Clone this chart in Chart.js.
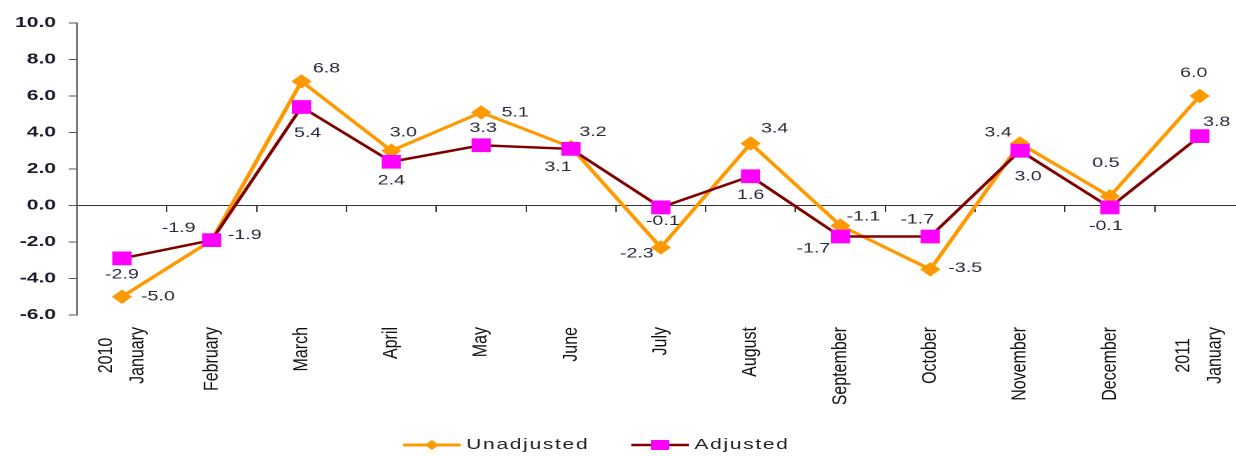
<!DOCTYPE html>
<html>
<head>
<meta charset="utf-8">
<script src="https://cdn.jsdelivr.net/npm/chart.js@4.4.1/dist/chart.umd.min.js"></script>
<style>
    html, body { margin: 0; padding: 0; background: #fff; overflow: hidden; }
    /* the reference picture is stretched sideways, so is this one */
    #wrap { width: 899px; height: 456px; transform: scaleX(1.4); transform-origin: 0 0; }
</style>
</head>
<body>
<div id="wrap"><canvas id="chartCanvas"></canvas></div>
<script>
const SX = 1.4;

const months = [
    ['2010', 'January'], ['February'], ['March'], ['April'], ['May'], ['June'],
    ['July'], ['August'], ['September'], ['October'], ['November'], ['December'],
    ['2011', 'January']
];
const unadjusted = [-5.0, -1.9, 6.8, 3.0, 5.1, 3.2, -2.3, 3.4, -1.1, -3.5, 3.4, 0.5, 6.0];
const adjusted = [-2.9, -1.9, 5.4, 2.4, 3.3, 3.1, -0.1, 1.6, -1.7, -1.7, 3.0, -0.1, 3.8];
const yMin = -6, yMax = 10, yStep = 2;

// where each value label sits next to its point (screen px)
const unadjLabelPos = [[36, 0], [-33, -12], [25, -13], [12, -18], [34, 0], [22, -15], [-24, 6],
    [24, -15], [23, -9], [35, -1], [-22, -11], [-4, -33], [-6, -23]];
const adjLabelPos = [[0, 16], [33, -5], [6, 26], [0, 19], [2, -17], [-13, 18], [2, 14],
    [0, 19], [-27, 12], [-13, -17], [8, 26], [-4, 19], [17, -14]];

const FONT = '"Liberation Sans", Arial, sans-serif';
const orange = '#FF9900';
const darkRed = '#800000';
const magenta = '#FF00FF';

const valueLabels = {
    id: 'valueLabels',
    afterDatasetsDraw(chart) {
        const ctx = chart.ctx;
        ctx.save();
        ctx.font = '14px ' + FONT;
        ctx.fillStyle = '#2a2a3a';
        ctx.textAlign = 'center';
        ctx.textBaseline = 'middle';
        chart.data.datasets.forEach((ds, di) => {
            const meta = chart.getDatasetMeta(di);
            meta.data.forEach((pt, i) => {
                const off = ds.labelPos[i];
                ctx.fillText(ds.data[i].toFixed(1), pt.x + off[0] / SX, pt.y + off[1]);
            });
        });
        ctx.restore();
    }
};

const monthLabels = {
    id: 'monthLabels',
    afterDraw(chart) {
        const ctx = chart.ctx;
        const xs = chart.scales.x;
        const top = chart.chartArea.bottom + 12;
        ctx.save();
        ctx.font = '16px ' + FONT;
        ctx.fillStyle = '#111';
        ctx.textAlign = 'center';
        ctx.textBaseline = 'middle';
        months.forEach((lines, i) => {
            const x = xs.getPixelForTick(i);
            const blockW = Math.max(...lines.map(l => ctx.measureText(l).width));
            lines.forEach((line, j) => {
                const v = (j - (lines.length - 1) / 2) * 22.5;
                ctx.save();
                ctx.translate(x + v, top);
                ctx.scale(0.92, 1);
                ctx.rotate(-Math.PI / 2);
                ctx.fillText(line, -blockW / 2, 0);
                ctx.restore();
            });
        });
        ctx.restore();
    }
};

const legendBox = {
    id: 'legendBox',
    afterDraw(chart) {
        const ctx = chart.ctx;
        const y = 445;
        let x = 288;
        ctx.save();
        ctx.font = '15px ' + FONT;
        ctx.letterSpacing = '1.2px';
        ctx.textBaseline = 'middle';
        ctx.textAlign = 'left';
        [1, 0].forEach(di => {
            const ds = chart.data.datasets[di];
            ctx.strokeStyle = ds.borderColor;
            ctx.lineWidth = ds.borderWidth;
            ctx.beginPath();
            ctx.moveTo(x, y);
            ctx.lineTo(x + 41, y);
            ctx.stroke();
            const mx = x + 20.5;
            ctx.fillStyle = ds.pointBackgroundColor;
            ctx.beginPath();
            if (ds.pointStyle === 'rectRot') {
                ctx.moveTo(mx - 5, y);
                ctx.lineTo(mx, y - 5);
                ctx.lineTo(mx + 5, y);
                ctx.lineTo(mx, y + 5);
                ctx.closePath();
            } else {
                ctx.rect(mx - 6.5, y - 5, 13, 10);
            }
            ctx.fill();
            ctx.fillStyle = '#222';
            ctx.fillText(ds.label, x + 45, y);
            x += 163;
        });
        ctx.restore();
    }
};

const ctx = document.getElementById('chartCanvas').getContext('2d');
const chart = new Chart(ctx, {
    type: 'line',
    data: {
        labels: months.map(m => m.join(' ')),
        datasets: [{
            label: 'Adjusted',
            data: adjusted,
            labelPos: adjLabelPos,
            borderColor: darkRed,
            borderWidth: 2.5,
            pointStyle: 'rect',
            pointRadius: 9,
            pointBackgroundColor: magenta,
            pointBorderColor: magenta,
            pointBorderWidth: 1,
            tension: 0,
            order: 0
        }, {
            label: 'Unadjusted',
            data: unadjusted,
            labelPos: unadjLabelPos,
            borderColor: orange,
            borderWidth: 3,
            pointStyle: 'rectRot',
            pointRadius: 6.5,
            pointBackgroundColor: orange,
            pointBorderColor: orange,
            pointBorderWidth: 1,
            tension: 0,
            order: 1
        }]
    },
    options: {
        responsive: true,
        maintainAspectRatio: false,
        devicePixelRatio: 2,
        animation: false,
        layout: { padding: { top: 23, left: 0, right: 0, bottom: 0 } },
        plugins: { legend: { display: false }, tooltip: { enabled: false } },
        scales: {
            x: {
                type: 'category',
                offset: true,
                grid: { display: false },
                border: { display: false },
                ticks: { display: false },
                afterFit(s) { s.height = 141; }
            },
            x2: {
                type: 'category',
                labels: months.map(m => m.join(' ')),
                offset: true,
                position: { y: 0 },
                grid: { display: true, drawOnChartArea: false, offset: true, tickLength: 6, color: '#333' },
                border: { color: '#333', width: 1 },
                ticks: { display: false }
            },
            y: {
                min: yMin,
                max: yMax,
                grid: { drawOnChartArea: false, tickLength: 6, color: '#555' },
                border: { color: '#555', width: 1 },
                ticks: {
                    stepSize: yStep,
                    padding: 9,
                    color: '#1a1a2a',
                    font: { family: FONT, size: 15, weight: 'bold' },
                    callback: v => v.toFixed(1)
                },
                afterFit(s) { s.width = 55; }
            }
        }
    },
    plugins: [valueLabels, monthLabels, legendBox]
});
</script>
</body>
</html>
